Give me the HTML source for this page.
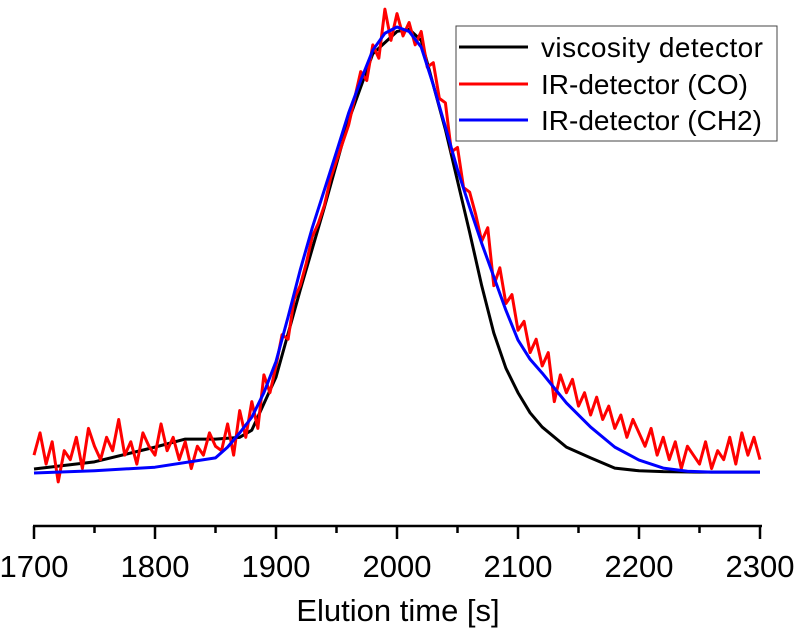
<!DOCTYPE html>
<html><head><meta charset="utf-8"><style>
html,body{margin:0;padding:0;background:#fff}
svg{display:block;font-family:"Liberation Sans",Arial,sans-serif}
</style></head><body>
<svg id="chart" width="796" height="629" viewBox="0 0 796 629">
<g id="plot"></g>
<g id="axis"></g>
<text x="398" y="621" font-size="31" text-anchor="middle">Elution time [s]</text>
<g>
<rect x="456" y="26" width="321" height="115" fill="#fff" stroke="#444" stroke-width="1"/>
<line x1="459" y1="47" x2="528" y2="47" stroke="#000" stroke-width="3"/>
<text x="541" y="57" font-size="28" textLength="222">viscosity detector</text>
<line x1="459" y1="84" x2="528" y2="84" stroke="#f00" stroke-width="3"/>
<text x="541" y="94" font-size="28">IR-detector (CO)</text>
<line x1="459" y1="120" x2="528" y2="120" stroke="#00f" stroke-width="3"/>
<text x="541" y="130" font-size="28">IR-detector (CH2)</text>
</g>
</svg>
<script>
const xTicks = [1700,1800,1900,2000,2100,2200,2300];
const blackT = [1700,1750,1800,1825,1850,1870,1880,1900,1920,1940,1960,1980,2000,2010,2020,2040,2060,2070,2080,2090,2100,2110,2120,2140,2160,2180,2200,2220,2250,2300];
const blackV = [0.9,2.5,5.8,7.6,7.6,8,9.6,21.5,41,59.6,79,94,99,99.5,97,77,54,42,31.4,23.5,18,13.5,10.3,5.8,3.4,1.1,0.5,0.3,0.2,0.2];
const blueT = [1700,1750,1800,1850,1860,1870,1880,1890,1900,1910,1920,1930,1940,1950,1960,1970,1980,1990,2000,2010,2020,2030,2040,2050,2060,2070,2080,2090,2100,2110,2120,2140,2160,2180,2200,2220,2240,2260,2300];
const blueV = [0,0.5,1.3,3.4,5.8,9,12.5,18,25,35,45.5,55,63.5,72,80.7,88,94.8,98.6,100,99,95.5,87,77.6,68,59.6,51.5,44,36.5,29.8,25.5,22.4,15.7,10.3,5.8,2.9,1.1,0.4,0.2,0.2];
const redStart = 1700;
const redStep = 5;
const redV = [4,9,2,7,-2,5,3,8,1,10,6,3,8,5,12,4,7,2,9,6,4,11,5,8,3,7,1,6,4,9,6,
5,11,4,14,8,16,10,22,18,
24,31,30,39,42,47,53,56,60,66,70,74,78,84,90,88,96,93,104,97,
103,98,101,96,99,91,92,84,83,72,73,64,63,58,52,55,42,46,38,40,
32,34,27,30,24,27,16,22,18,21,15,18,13,17,12,15,10,13,8,12,
9,6,10,4,8,3,7,1,6,4,2,7,1,5,3,8,2,9,4,8,3];

const NS='http://www.w3.org/2000/svg';
function xS(t){return 34 + (t-1700)*(726/600);}
function yS(v){return 473 - v*4.46;}
function mk(tag,attrs,parent){const e=document.createElementNS(NS,tag);for(const k in attrs)e.setAttribute(k,attrs[k]);parent.appendChild(e);return e;}
const plot=document.getElementById('plot'), axis=document.getElementById('axis');
function path(ts,vs){return ts.map((t,i)=>(i?'L':'M')+xS(t).toFixed(2)+','+yS(vs[i]).toFixed(2)).join('');}
const redT = redV.map((_,i)=>redStart+i*redStep);
let p;
p=mk('path',{d:path(blackT,blackV),fill:'none',stroke:'#000','stroke-width':3,'stroke-linejoin':'round'},plot);


p=mk('path',{d:path(redT,redV),fill:'none',stroke:'#f00','stroke-width':3,'stroke-linejoin':'round'},plot);


p=mk('path',{d:path(blueT,blueV),fill:'none',stroke:'#00f','stroke-width':3,'stroke-linejoin':'round'},plot);


let l=mk('line',{x1:33,x2:762,y1:526,y2:526,stroke:'#000','stroke-width':2.5},axis);


for(let t=1700;t<=2300;t+=50){
  const major=xTicks.includes(t);
  const tk=mk('line',{x1:xS(t),x2:xS(t),y1:526,y2:major?539:533,stroke:'#000','stroke-width':2.5},axis);
  
  
}
xTicks.forEach(t=>{
  const tx=mk('text',{x:xS(t),y:577,'font-size':31,'text-anchor':'middle'},axis);
  tx.textContent=t;
  
  
});
</script>
</body></html>
